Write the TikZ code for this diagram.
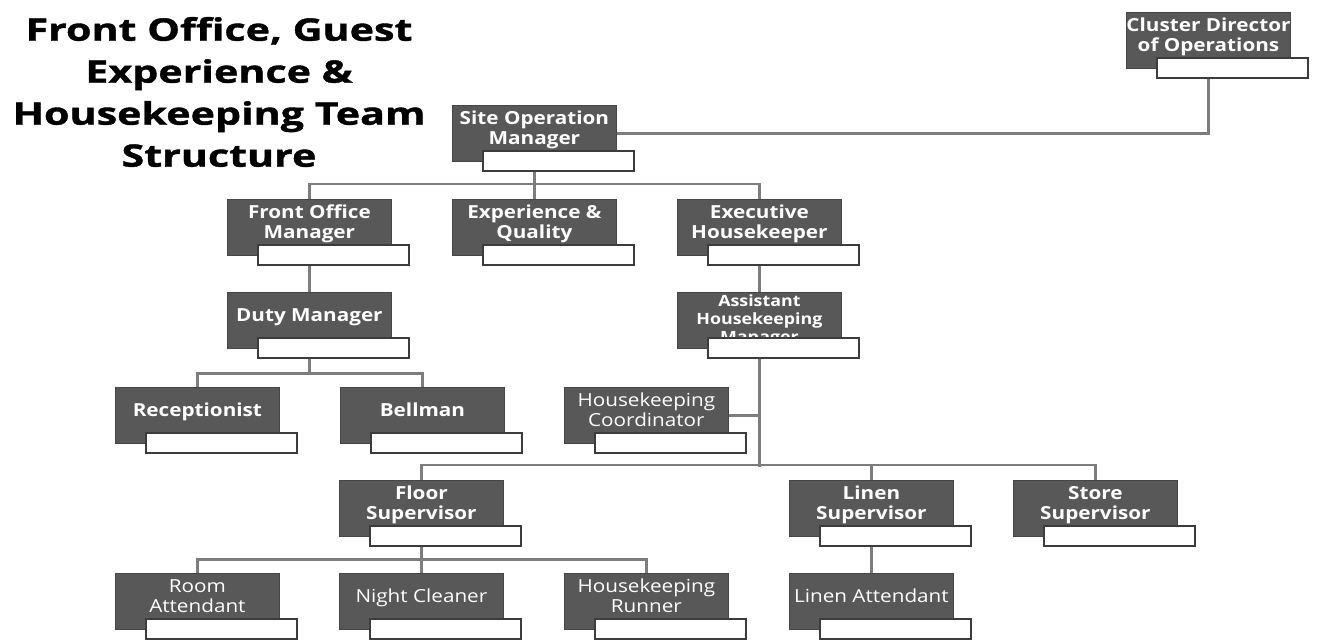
\documentclass[tikz,border=0pt]{standalone}
\usepackage{fontspec}
\setmainfont{Open Sans}[FakeStretch=1.15]
\newfontfamily\titlefont{Open Sans}[FakeStretch=1.33, FakeBold=1.2]
\usepackage{tikz}
\usetikzlibrary{positioning}
\definecolor{boxgrey}{RGB}{88,88,88}
\definecolor{roleedge}{RGB}{70,70,70}
\definecolor{tagedge}{RGB}{60,60,60}
\definecolor{linkgrey}{RGB}{125,125,125}

\begin{document}
\begin{tikzpicture}[x=1pt, y=-1pt]

	\tikzstyle{role} = [draw=roleedge, line width=0.8pt, fill=boxgrey, text=white, font=\bfseries\fontsize{18}{20}\selectfont, align=center, minimum width=164, minimum height=56, inner sep=0pt, anchor=north west, text depth=11pt]

	\tikzstyle{lightrole} = [role, font=\fontsize{18}{20}\selectfont]

	\tikzstyle{tag} = [draw=tagedge, fill=white, line width=1.5pt, minimum width=151, minimum height=20, inner sep=0pt, anchor=north west]

	\tikzstyle{link} = [draw=linkgrey, line width=2.5pt]

	\useasboundingbox (0,0) rectangle (1335,643);

	% title
	\node[font=\titlefont\bfseries\fontsize{31}{42}\selectfont, align=center] (title) at (219,92) {Front Office, Guest\\Experience \&\\Housekeeping Team\\Structure};

	% boxes
	\node[role] (cluster) at (1126,12) {Cluster Director\\of Operations};
	\node[tag] (clustertag) at ([shift={(30,45)}]cluster.north west) {};
	\node[role] (site) at (452,105) {Site Operation\\Manager};
	\node[tag] (sitetag) at ([shift={(30,45)}]site.north west) {};

	\node[role] (front office) at (227,199) {Front Office\\Manager};
	\node[tag] (front office tag) at ([shift={(30,45)}]front office.north west) {};
	\node[role] (guest) at (452,199) {Experience \&\\Quality};
	\node[tag] (guest tag) at ([shift={(30,45)}]guest.north west) {};
	\node[role] (exec) at (677,199) {Executive\\Housekeeper};
	\node[tag] (exec tag) at ([shift={(30,45)}]exec.north west) {};

	\node[role] (duty) at (227,292) {Duty Manager};
	\node[tag] (duty tag) at ([shift={(30,45)}]duty.north west) {};
	\node[role, font=\bfseries\fontsize{15.5}{18}\selectfont, text depth=4pt] (assistant) at (677,292) {Assistant\\Housekeeping\\Manager};
	\node[tag] (assistant tag) at ([shift={(30,45)}]assistant.north west) {};

	\node[role] (reception) at (115,387) {Receptionist};
	\node[tag] (reception tag) at ([shift={(30,45)}]reception.north west) {};
	\node[role] (bell) at (340,387) {Bellman};
	\node[tag] (bell tag) at ([shift={(30,45)}]bell.north west) {};
	\node[lightrole] (coordinator) at (564,387) {Housekeeping\\Coordinator};
	\node[tag] (coordinator tag) at ([shift={(30,45)}]coordinator.north west) {};

	\node[role] (floor) at (339,480) {Floor\\Supervisor};
	\node[tag] (floor tag) at ([shift={(30,45)}]floor.north west) {};
	\node[role] (linen) at (789,480) {Linen\\Supervisor};
	\node[tag] (linen tag) at ([shift={(30,45)}]linen.north west) {};
	\node[role] (store) at (1013,480) {Store\\Supervisor};
	\node[tag] (store tag) at ([shift={(30,45)}]store.north west) {};

	\node[lightrole] (room) at (115,573) {Room\\Attendant};
	\node[tag] (room tag) at ([shift={(30,45)}]room.north west) {};
	\node[lightrole] (night) at (339,573) {Night Cleaner};
	\node[tag] (night tag) at ([shift={(30,45)}]night.north west) {};
	\node[lightrole] (runner) at (564,573) {Housekeeping\\Runner};
	\node[tag] (runner tag) at ([shift={(30,45)}]runner.north west) {};
	\node[lightrole] (linen attendant) at (789,573) {Linen Attendant};
	\node[tag] (linen attendant tag) at ([shift={(30,45)}]linen attendant.north west) {};

	% reporting lines
	\path [link] (cluster.south |- clustertag.south) |- (site.east);

	\path [link] (site.south |- sitetag.south) -- (guest.north);
	\path [link] (front office.north) -- ++(0,-15) -| (exec.north);

	\path [link] (front office.south |- front office tag.south) -- (duty.north);
	\path [link] (exec.south |- exec tag.south) -- (assistant.north);

	\path [link] (duty.south |- duty tag.south) -- ++(0,15) -| (reception.north);
	\path [link] (duty.south |- duty tag.south) -- ++(0,15) -| (bell.north);

	\path [link] (assistant.south |- assistant tag.south) -- ++(0,108);
	\path [link] (coordinator.east) -- (coordinator.east -| assistant.south);
	\path [link] (floor.north) -- ++(0,-15) -| (store.north);
	\path [link] (linen.north) -- ++(0,-15);

	\path [link] (floor.south |- floor tag.south) -- ++(0,13) -| (room.north);
	\path [link] (floor.south |- floor tag.south) -- ++(0,13) -| (runner.north);
	\path [link] (floor.south |- floor tag.south) -- (night.north);

	\path [link] (linen.south |- linen tag.south) -- (linen attendant.north);

\end{tikzpicture}
\end{document}
